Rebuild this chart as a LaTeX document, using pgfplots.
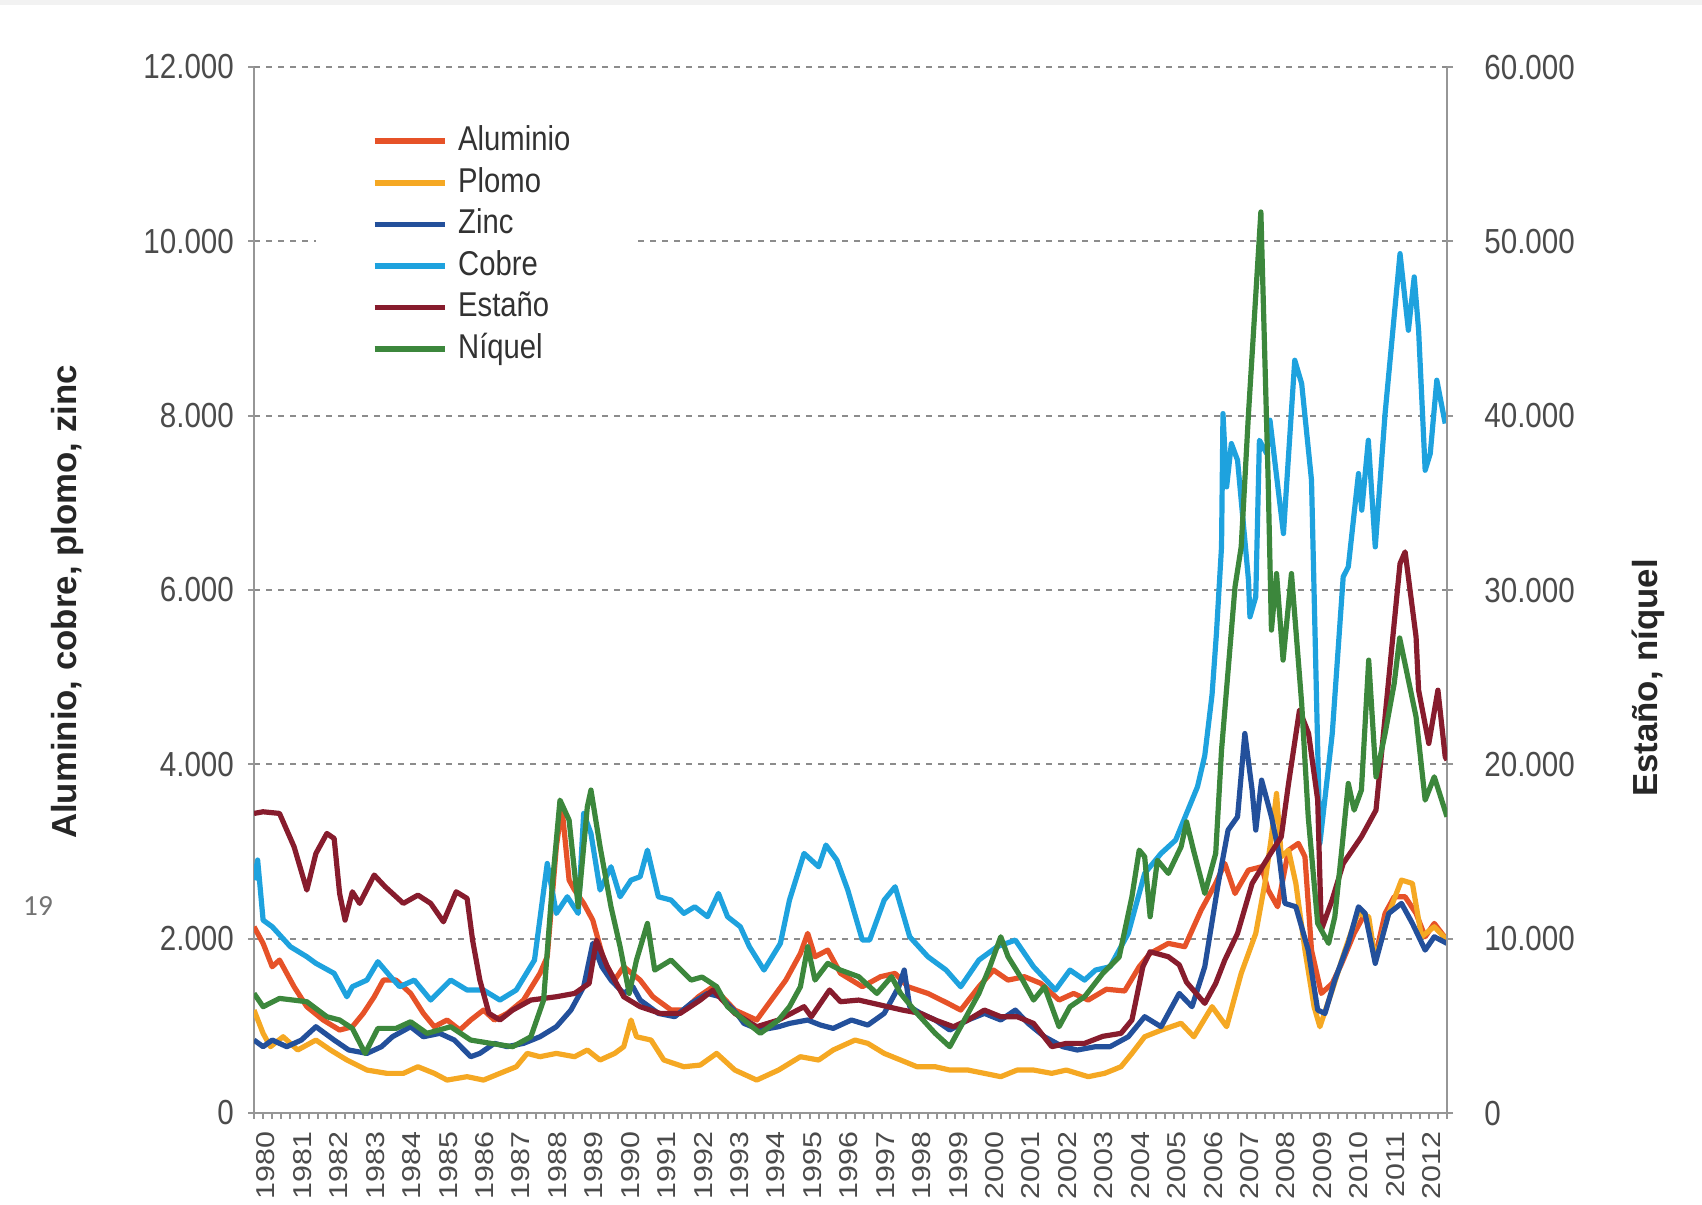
\documentclass[border=0pt]{standalone}
\usepackage{fontspec}
\setmainfont{Liberation Sans}
\newfontfamily\cond[FakeStretch=0.85]{Liberation Sans}
\newfontfamily\calib{Carlito}
\usepackage{graphicx}
\usepackage{pgfplots}
\usepackage{pgfplotstable}
\pgfplotsset{compat=1.18}

\definecolor{alu}{RGB}{230,82,40}
\definecolor{plo}{RGB}{245,168,35}
\definecolor{zin}{RGB}{35,80,155}
\definecolor{cob}{RGB}{30,162,222}
\definecolor{est}{RGB}{135,28,45}
\definecolor{niq}{RGB}{60,135,60}
\definecolor{tickc}{RGB}{75,75,75}
\definecolor{axl}{RGB}{150,150,150}
\definecolor{legc}{RGB}{50,50,50}

\newcommand\rs[1]{\scalebox{1}[0.85]{#1}}

\pgfplotstableread{
x y
1980.0 2137
1980.25 1946
1980.5 1678
1980.7 1755
1981.1 1449
1981.45 1220
1981.9 1067
1982.35 952
1982.7 990
1983.0 1143
1983.3 1334
1983.55 1525
1983.9 1525
1984.3 1372
1984.65 1143
1984.95 990
1985.3 1067
1985.65 952
1985.95 1067
1986.3 1181
1986.6 1067
1986.95 1143
1987.4 1296
1987.85 1602
1988.05 1793
1988.3 3055
1988.45 3513
1988.65 2672
1988.8 2558
1989.05 2405
1989.3 2213
1989.6 1755
1989.9 1525
1990.15 1678
1990.6 1525
1990.95 1334
1991.45 1181
1991.8 1181
1992.2 1334
1992.6 1449
1993.2 1181
1993.8 1067
1994.2 1296
1994.6 1525
1995.0 1831
1995.2 2061
1995.4 1793
1995.75 1869
1996.1 1602
1996.7 1449
1997.2 1564
1997.6 1602
1997.95 1449
1998.5 1372
1999.05 1258
1999.4 1181
1999.9 1449
2000.3 1640
2000.7 1525
2001.15 1564
2001.6 1487
2002.1 1296
2002.5 1372
2002.9 1296
2003.4 1420
2003.9 1400
2004.3 1678
2004.6 1831
2005.1 1946
2005.55 1908
2006.0 2328
2006.4 2634
2006.65 2863
2006.93 2519
2007.3 2787
2007.66 2825
2007.84 2558
2008.1 2366
2008.4 3016
2008.67 3093
2008.85 2940
2009.03 1869
2009.3 1372
2009.6 1487
2009.86 1717
2010.2 2061
2010.5 2290
2010.78 1793
2011.05 2290
2011.3 2481
2011.6 2481
2011.9 2290
2012.15 2022
2012.4 2175
2012.75 1984
}\alutab

\pgfplotstableread{
x y
1980.0 1181
1980.25 914
1980.45 761
1980.8 875
1981.2 723
1981.7 837
1982.1 723
1982.55 608
1983.1 493
1983.65 455
1984.1 455
1984.5 531
1984.95 455
1985.3 378
1985.85 417
1986.3 378
1986.75 455
1987.2 531
1987.5 684
1987.85 646
1988.3 684
1988.8 646
1989.15 723
1989.5 608
1989.9 684
1990.15 761
1990.35 1067
1990.5 875
1990.9 837
1991.25 608
1991.8 531
1992.25 550
1992.7 684
1993.2 493
1993.8 378
1994.4 493
1995.0 646
1995.5 608
1995.9 723
1996.5 837
1996.85 799
1997.3 684
1997.75 608
1998.2 531
1998.7 531
1999.1 493
1999.6 493
2000.05 455
2000.5 417
2000.95 493
2001.4 493
2001.9 455
2002.3 493
2002.9 417
2003.35 455
2003.8 531
2004.1 684
2004.45 875
2004.9 950
2005.45 1030
2005.8 875
2006.3 1220
2006.7 990
2007.1 1602
2007.5 2061
2007.75 2634
2007.93 3169
2008.07 3666
2008.2 2940
2008.4 3016
2008.6 2634
2008.85 1869
2009.1 1220
2009.26 990
2009.6 1411
2009.95 1869
2010.3 2290
2010.6 2252
2010.78 1755
2011.15 2290
2011.5 2672
2011.8 2634
2012.05 2022
2012.4 2137
2012.75 1984
}\plotab

\pgfplotstableread{
x y
1980.0 837
1980.25 761
1980.5 837
1980.9 761
1981.3 837
1981.7 990
1982.2 837
1982.6 723
1983.1 684
1983.5 761
1983.8 875
1984.3 990
1984.65 875
1985.1 914
1985.5 837
1985.95 646
1986.2 684
1986.6 799
1986.95 761
1987.4 799
1987.85 875
1988.3 990
1988.7 1181
1989.05 1449
1989.3 1946
1989.55 1678
1989.8 1525
1990.15 1372
1990.4 1449
1990.6 1296
1991.1 1143
1991.55 1105
1992.0 1258
1992.45 1372
1992.8 1334
1993.25 1143
1993.45 1028
1993.9 952
1994.4 990
1994.7 1028
1995.2 1067
1995.55 1009
1995.9 971
1996.4 1067
1996.85 1009
1997.3 1143
1997.7 1449
1997.85 1640
1998.0 1220
1998.3 1143
1998.7 1067
1999.1 952
1999.6 1067
2000.05 1143
2000.5 1067
2000.9 1181
2001.25 1028
2001.7 875
2002.2 761
2002.6 723
2003.1 761
2003.5 761
2004.0 875
2004.45 1105
2004.9 990
2005.4 1372
2005.75 1220
2006.1 1678
2006.47 2634
2006.74 3246
2007.0 3399
2007.2 4354
2007.4 3705
2007.5 3246
2007.66 3819
2007.93 3399
2008.12 3016
2008.3 2405
2008.6 2366
2008.94 1869
2009.2 1181
2009.4 1143
2009.67 1525
2010.04 1946
2010.32 2366
2010.5 2290
2010.78 1717
2011.15 2290
2011.5 2405
2011.8 2175
2012.15 1869
2012.4 2022
2012.75 1946
}\zintab

\pgfplotstableread{
x y
1980.0 2672
1980.1 2902
1980.25 2213
1980.5 2137
1981.0 1908
1981.45 1793
1981.7 1717
1982.2 1602
1982.55 1334
1982.7 1449
1983.1 1525
1983.4 1736
1983.75 1564
1984.0 1449
1984.4 1525
1984.85 1296
1985.4 1525
1985.85 1411
1986.3 1411
1986.75 1296
1987.2 1411
1987.7 1755
1988.05 2863
1988.3 2290
1988.6 2481
1988.9 2290
1989.05 3437
1989.25 3207
1989.5 2558
1989.8 2825
1990.05 2481
1990.35 2672
1990.6 2711
1990.8 3016
1991.1 2481
1991.45 2443
1991.8 2290
1992.1 2366
1992.45 2252
1992.75 2519
1993.0 2252
1993.35 2137
1993.6 1908
1994.0 1640
1994.45 1946
1994.7 2443
1995.1 2978
1995.5 2825
1995.7 3074
1996.0 2902
1996.3 2558
1996.7 1984
1996.9 1984
1997.3 2443
1997.6 2596
1998.0 2022
1998.5 1793
1999.0 1640
1999.4 1449
1999.9 1755
2000.4 1908
2000.9 1984
2001.4 1678
2002.0 1411
2002.4 1640
2002.8 1525
2003.1 1640
2003.5 1678
2004.0 2061
2004.45 2749
2004.9 2978
2005.3 3131
2005.6 3437
2005.9 3743
2006.1 4100
2006.3 4800
2006.42 5500
2006.56 6495
2006.6 8024
2006.7 7183
2006.83 7680
2007.0 7489
2007.3 6113
2007.34 5692
2007.5 5922
2007.6 7718
2007.8 7566
2007.89 7948
2008.03 7451
2008.26 6648
2008.57 8636
2008.76 8368
2009.03 7260
2009.26 3093
2009.6 4354
2009.9 6151
2010.04 6266
2010.32 7336
2010.41 6916
2010.59 7718
2010.78 6495
2011.05 8024
2011.46 9859
2011.55 9516
2011.69 8980
2011.85 9592
2011.97 8980
2012.15 7374
2012.29 7566
2012.47 8407
2012.7 7910
}\cobtab

\pgfplotstableread{
x y
1980.0 17185
1980.25 17280
1980.7 17185
1981.1 15275
1981.45 12790
1981.7 14890
1982.0 16035
1982.2 15750
1982.35 12595
1982.5 11065
1982.7 12690
1982.9 12025
1983.3 13650
1983.6 12980
1984.1 12025
1984.5 12500
1984.85 12025
1985.2 10970
1985.55 12690
1985.85 12310
1986.0 9920
1986.2 7625
1986.45 5715
1986.75 5335
1987.1 5905
1987.6 6480
1988.3 6670
1988.8 6860
1989.2 7435
1989.4 9920
1989.7 8390
1990.15 6670
1990.6 6100
1991.15 5715
1991.7 5715
1992.25 6480
1992.6 7055
1993.2 5715
1993.8 4950
1994.4 5335
1995.1 6100
1995.3 5525
1995.8 7055
1996.1 6385
1996.6 6480
1997.0 6290
1997.8 5905
1998.3 5715
1998.7 5335
1999.2 4950
1999.6 5335
2000.05 5905
2000.5 5525
2000.95 5525
2001.4 5140
2001.9 3805
2002.3 3995
2002.8 3995
2003.3 4400
2003.8 4570
2004.1 5335
2004.4 8390
2004.6 9250
2005.1 8965
2005.4 8500
2005.6 7500
2006.1 6290
2006.4 7435
2006.65 8775
2007.0 10305
2007.4 13170
2007.85 14700
2008.2 15845
2008.4 18905
2008.7 23110
2008.95 21770
2009.2 17950
2009.3 10500
2009.6 12250
2009.9 14315
2010.4 15845
2010.8 17375
2011.05 22725
2011.2 25975
2011.46 31520
2011.6 32190
2011.9 27315
2011.97 24255
2012.25 21200
2012.5 24255
2012.7 20435
2012.75 20245
}\esttab

\pgfplotstableread{
x y
1980.0 6860
1980.25 6100
1980.7 6575
1981.45 6385
1982.0 5525
1982.35 5335
1982.7 4855
1983.05 3420
1983.4 4855
1983.9 4855
1984.3 5235
1984.75 4570
1985.4 4950
1985.95 4185
1986.5 3995
1987.1 3805
1987.6 4375
1987.95 6480
1988.2 13360
1988.4 17950
1988.65 16800
1988.9 11830
1989.15 17565
1989.25 18525
1989.5 15275
1989.8 11830
1990.05 9540
1990.3 6860
1990.5 8775
1990.8 10875
1991.0 8200
1991.45 8775
1992.0 7625
1992.3 7800
1992.7 7250
1993.0 6100
1993.45 5335
1993.9 4570
1994.4 5335
1994.7 6100
1995.0 7245
1995.2 9540
1995.4 7625
1995.75 8585
1996.1 8200
1996.6 7820
1997.1 6860
1997.5 7820
1997.75 6860
1998.2 5715
1998.7 4570
1999.1 3805
1999.5 5335
1999.9 6860
2000.2 8390
2000.5 10110
2000.7 8965
2001.1 7625
2001.4 6480
2001.7 7245
2002.1 4950
2002.4 6100
2002.8 6670
2003.3 8010
2003.75 8950
2004.1 12405
2004.3 15080
2004.45 14700
2004.6 11260
2004.8 14500
2005.1 13745
2005.45 15275
2005.6 16700
2005.8 15000
2006.1 12595
2006.4 14890
2006.56 20815
2006.93 30180
2007.1 32475
2007.3 40120
2007.64 51685
2007.84 36300
2007.93 27700
2008.07 30945
2008.25 25980
2008.48 30945
2008.76 23500
2008.94 16995
2009.2 10875
2009.5 9730
2009.67 11260
2009.86 15080
2010.04 18905
2010.2 17375
2010.4 18525
2010.6 25980
2010.8 19285
2011.05 21770
2011.3 24640
2011.45 27250
2011.9 22725
2012.15 17950
2012.4 19285
2012.75 16995
}\niqtab

\pgfplotsset{
  common/.style={
    scale only axis, width=298.25pt, height=261.5pt,
    at={(63.5pt,22.75pt)}, anchor=south west,
    xmin=1980, xmax=2012.75,
    axis line style={draw=axl, line width=0.6pt},
    tick align=outside, major tick length=1.5pt, minor tick length=1.4pt,
    tick style={draw=axl, line width=0.5pt},
    scaled y ticks=false,
    /pgf/number format/assume math mode=true,
    yticklabel style={font=\cond\fontsize{8.7}{10}\selectfont, text=tickc,
      /pgf/number format/fixed, /pgf/number format/1000 sep={.}},
    ylabel style={font=\fontsize{8.7}{10}\selectfont\bfseries, text=black!85, anchor=center},
  },
  ser/.style={line width=1.3pt, line join=round},
}

\begin{document}
\begin{tikzpicture}
\useasboundingbox (0,0) rectangle (425.5pt,301pt);
\fill[black!5] (0,299.75pt) rectangle (425.5pt,301pt);
\node[font=\calib\fontsize{7.3}{8}\selectfont, text=black!55] at (9.5pt,74.5pt) {19};

\begin{axis}[common,
  ymin=0, ymax=12000,
  axis x line*=bottom, axis y line*=left,
  ytick={0,2000,4000,6000,8000,10000,12000},
  ymajorgrids,
  grid style={draw=black!45, dash pattern=on 1.4pt off 1.6pt, line width=0.5pt},
  xtick={1980.33,1981.33,1982.33,1983.33,1984.33,1985.33,1986.33,1987.33,1988.33,1989.33,1990.33,1991.33,1992.33,1993.33,1994.33,1995.33,1996.33,1997.33,1998.33,1999.33,2000.33,2001.33,2002.33,2003.33,2004.33,2005.33,2006.33,2007.33,2008.33,2009.33,2010.33,2011.33,2012.33},
  xticklabels={\rs{1980},\rs{1981},\rs{1982},\rs{1983},\rs{1984},\rs{1985},\rs{1986},\rs{1987},\rs{1988},\rs{1989},\rs{1990},\rs{1991},\rs{1992},\rs{1993},\rs{1994},\rs{1995},\rs{1996},\rs{1997},\rs{1998},\rs{1999},\rs{2000},\rs{2001},\rs{2002},\rs{2003},\rs{2004},\rs{2005},\rs{2006},\rs{2007},\rs{2008},\rs{2009},\rs{2010},\rs{2011},\rs{2012}},
  xticklabel style={rotate=90, anchor=east, font=\fontsize{7.6}{8}\selectfont, text=tickc, inner sep=3pt},
  major x tick style={draw=none},
  minor xtick={1980,1980.25,...,2012.75},
  ylabel={Aluminio, cobre, plomo, zinc},
  ylabel style={at={(axis description cs:-0.1567,0.4885)}},
  legend style={at={(axis description cs:0.0511,0.968)}, anchor=north west,
    draw=none, fill=white, inner xsep=14pt, inner ysep=6pt,
    font=\cond\fontsize{8.6}{10}\selectfont, text=legc,
    row sep=2.4pt, nodes={inner ysep=0pt, inner xsep=2.7pt, text height=6.3pt, text depth=1.7pt}},
  legend cell align=left,
  legend image code/.code={\draw[#1, line width=1.4pt] (0pt,0pt) -- (17.5pt,0pt);},
]
\addplot[alu, ser] table {\alutab};
\addlegendentry{Aluminio}
\addplot[plo, ser] table {\plotab};
\addlegendentry{Plomo}
\addplot[zin, ser] table {\zintab};
\addlegendentry{Zinc}
\addplot[cob, ser] table {\cobtab};
\addlegendentry{Cobre}
\addlegendimage{est}
\addlegendentry{Estaño}
\addlegendimage{niq}
\addlegendentry{Níquel}
\end{axis}

\begin{axis}[common,
  ymin=0, ymax=60000,
  axis x line=none, axis y line*=right,
  ytick={0,10000,20000,30000,40000,50000,60000},
  yticklabel style={xshift=4.3pt},
  ylabel={Estaño, níquel},
  ylabel style={at={(axis description cs:1.1685,0.416)}},
]
\addplot[est, ser] table {\esttab};
\addplot[niq, ser] table {\niqtab};
\end{axis}
\end{tikzpicture}
\end{document}
